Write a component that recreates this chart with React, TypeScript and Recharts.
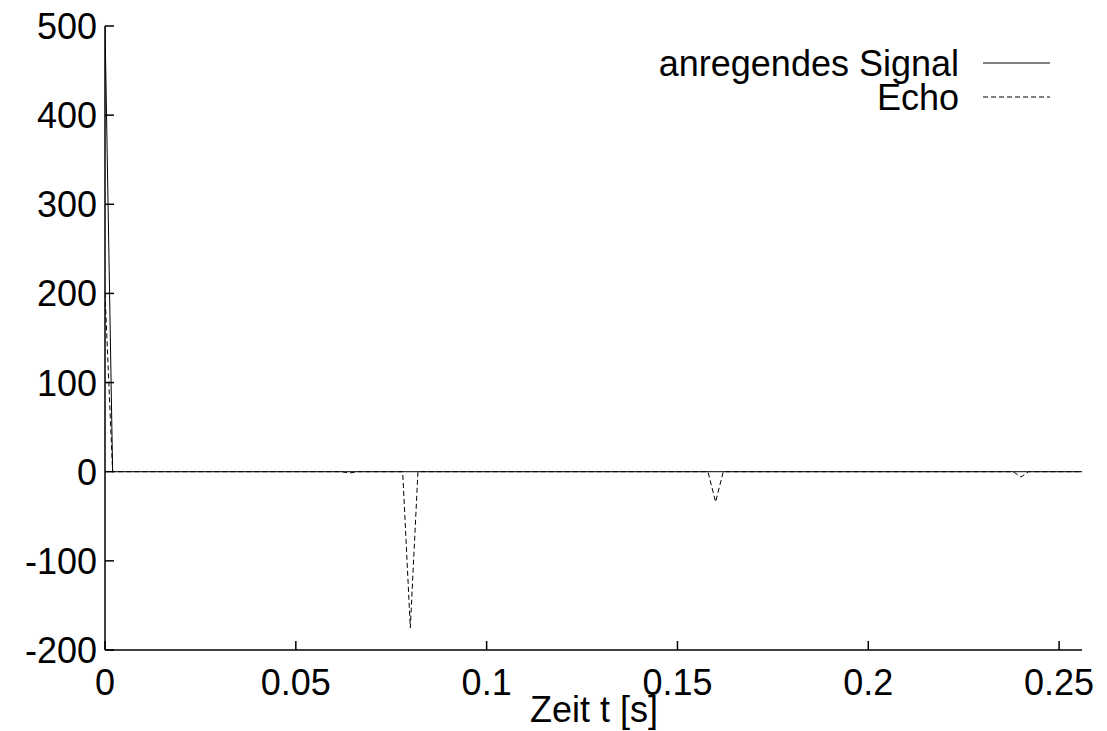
import React from 'react';
import { LineChart, Line, XAxis, YAxis } from 'recharts';

// excitation pulse and its echo, sampled every 2 ms (only the points where the trace changes)
const signalTimes = [0, 0.002, 0.256];
const signalValues = [500, 0, 0];

const echoTimes = [0, 0.002, 0.062, 0.064, 0.066, 0.078, 0.08, 0.082, 0.158, 0.16, 0.162, 0.238, 0.24, 0.242, 0.256];
const echoValues = [200, 0, 0, -1.5, 0, 0, -175, 0, 0, -34, 0, 0, -6, 0, 0];

const xTicks = [0, 0.05, 0.1, 0.15, 0.2, 0.25];
const yTicks = [-200, -100, 0, 100, 200, 300, 400, 500];

const legendItems = [
  { name: 'anregendes Signal', dash: undefined as string | undefined },
  { name: 'Echo', dash: '5 3' },
];

const signalData = signalTimes.map((t, i) => ({ t, v: signalValues[i] }));
const echoData = echoTimes.map((t, i) => ({ t, v: echoValues[i] }));

const FONT = '"Liberation Sans", Arial, Helvetica, sans-serif';
const FS = 36;
const TICK = 9;

const fmt = (v: number) => String(v);

function BottomTick({ x, y, payload }: any) {
  return (
    <g>
      <line x1={x} y1={y} x2={x} y2={y - TICK} stroke="#000" strokeWidth={1.5} />
      <text x={x} y={y + 45} textAnchor="middle" fontFamily={FONT} fontSize={FS} fill="#000">
        {fmt(payload.value)}
      </text>
    </g>
  );
}

function TopTick({ x, y }: any) {
  return <line x1={x} y1={y} x2={x} y2={y + TICK} stroke="#000" strokeWidth={1.5} />;
}

function LeftTick({ x, y, payload }: any) {
  return (
    <g>
      <line x1={x} y1={y} x2={x + TICK} y2={y} stroke="#000" strokeWidth={1.5} />
      <text x={x - 8} y={y + 13} textAnchor="end" fontFamily={FONT} fontSize={FS} fill="#000">
        {fmt(payload.value)}
      </text>
    </g>
  );
}

function RightTick({ x, y }: any) {
  return <line x1={x} y1={y} x2={x - TICK} y2={y} stroke="#000" strokeWidth={1.5} />;
}

export default function App() {
  return (
    <div style={{ position: 'fixed', left: 0, top: 0, width: 1107, height: 731, background: '#fff' }}>
      <LineChart width={1107} height={731} margin={{ top: 26, right: 25, bottom: 0, left: 0 }}>
        <XAxis
          xAxisId="bottom"
          dataKey="t"
          type="number"
          domain={[0, 0.256]}
          ticks={xTicks}
          allowDataOverflow
          height={81}
          tickSize={0}
          tickMargin={0}
          tickLine={false}
          tick={<BottomTick />}
          axisLine={{ stroke: '#000', strokeWidth: 1.5 }}
          interval={0}
        />
        <XAxis
          xAxisId="top"
          orientation="top"
          dataKey="t"
          type="number"
          domain={[0, 0.256]}
          ticks={xTicks}
          allowDataOverflow
          height={0}
          tickSize={0}
          tickMargin={0}
          tickLine={false}
          tick={<TopTick />}
          axisLine={{ stroke: '#000', strokeWidth: 1.5 }}
          interval={0}
        />
        <YAxis
          yAxisId="left"
          type="number"
          domain={[-200, 500]}
          ticks={yTicks}
          allowDataOverflow
          width={105}
          tickSize={0}
          tickMargin={0}
          tickLine={false}
          tick={<LeftTick />}
          axisLine={{ stroke: '#000', strokeWidth: 1.5 }}
          interval={0}
        />
        <YAxis
          yAxisId="right"
          orientation="right"
          type="number"
          domain={[-200, 500]}
          ticks={yTicks}
          allowDataOverflow
          width={0}
          tickSize={0}
          tickMargin={0}
          tickLine={false}
          tick={<RightTick />}
          axisLine={{ stroke: '#000', strokeWidth: 1.5 }}
          interval={0}
        />
        <Line
          xAxisId="bottom"
          yAxisId="left"
          data={signalData}
          dataKey="v"
          type="linear"
          stroke="#000"
          strokeWidth={1}
          dot={false}
          isAnimationActive={false}
        />
        <Line
          xAxisId="bottom"
          yAxisId="left"
          data={echoData}
          dataKey="v"
          type="linear"
          stroke="#000"
          strokeWidth={1}
          strokeDasharray="5 3"
          dot={false}
          isAnimationActive={false}
        />
      </LineChart>
      <svg width={1107} height={731} style={{ position: 'absolute', left: 0, top: 0, pointerEvents: 'none' }}>
        {legendItems.map((item, i) => (
          <g key={item.name}>
            <text
              x={959}
              y={76 + i * 34}
              textAnchor="end"
              fontFamily={FONT}
              fontSize={FS}
              fill="#000"
            >
              {item.name}
            </text>
            <line
              x1={983}
              x2={1050}
              y1={63 + i * 34}
              y2={63 + i * 34}
              stroke="#000"
              strokeWidth={1}
              strokeDasharray={item.dash}
            />
          </g>
        ))}
        <text x={594} y={722} textAnchor="middle" fontFamily={FONT} fontSize={FS} fill="#000">
          Zeit t [s]
        </text>
      </svg>
    </div>
  );
}
